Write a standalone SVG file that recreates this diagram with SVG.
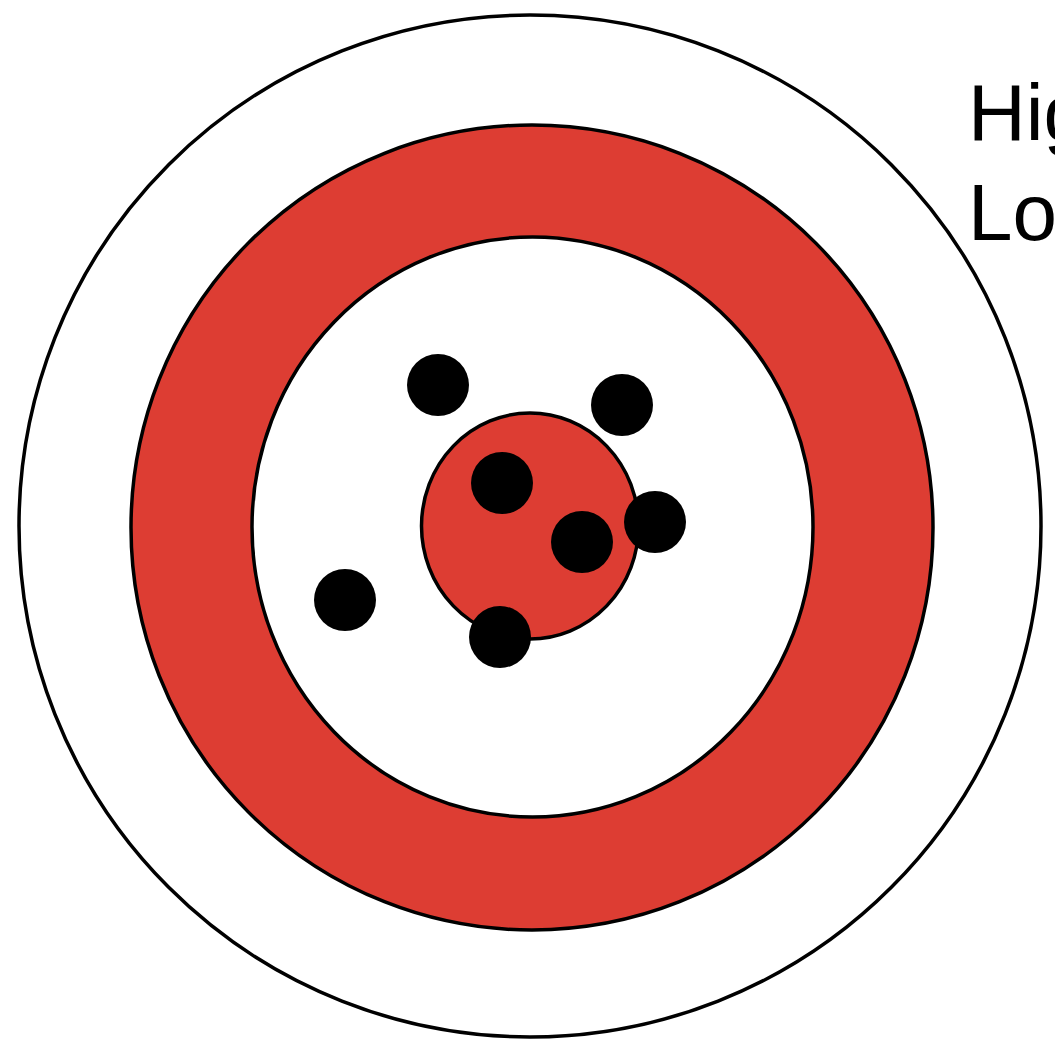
<svg xmlns="http://www.w3.org/2000/svg" width="1055" height="1044" viewBox="0 0 1055 1044">
  <style>
    .ring { stroke: #000; stroke-width: 3.5; }
    .red { fill: #DD3D33; }
    .white { fill: #fff; }
    .dot { fill: #000; }
    .lbl { font-family: "Liberation Sans", Arial, sans-serif; font-size: 80px; fill: #000; }
  </style>
  <rect width="1055" height="1044" fill="#fff"/>
  <g id="target">
    <circle id="outer" class="ring white" cx="530" cy="526" r="511"/>
    <ellipse id="redring" class="ring red" cx="532" cy="527.5" rx="401" ry="402.5"/>
    <ellipse id="inner" class="ring white" cx="532.5" cy="527" rx="280.5" ry="290"/>
    <ellipse id="bullseye" class="ring red" cx="530" cy="526" rx="108.5" ry="113"/>
  </g>
  <g id="hits">
    <circle class="dot" cx="438" cy="385" r="31"/>
    <circle class="dot" cx="622" cy="405" r="31"/>
    <circle class="dot" cx="502" cy="483" r="31"/>
    <circle class="dot" cx="582" cy="542" r="31"/>
    <circle class="dot" cx="655" cy="522" r="31"/>
    <circle class="dot" cx="500" cy="637" r="31"/>
    <circle class="dot" cx="345" cy="600" r="31"/>
  </g>
  <g id="labels">
    <text class="lbl" x="968" y="140">Hig</text>
    <text class="lbl" x="968" y="240">Lo</text>
  </g>
</svg>
